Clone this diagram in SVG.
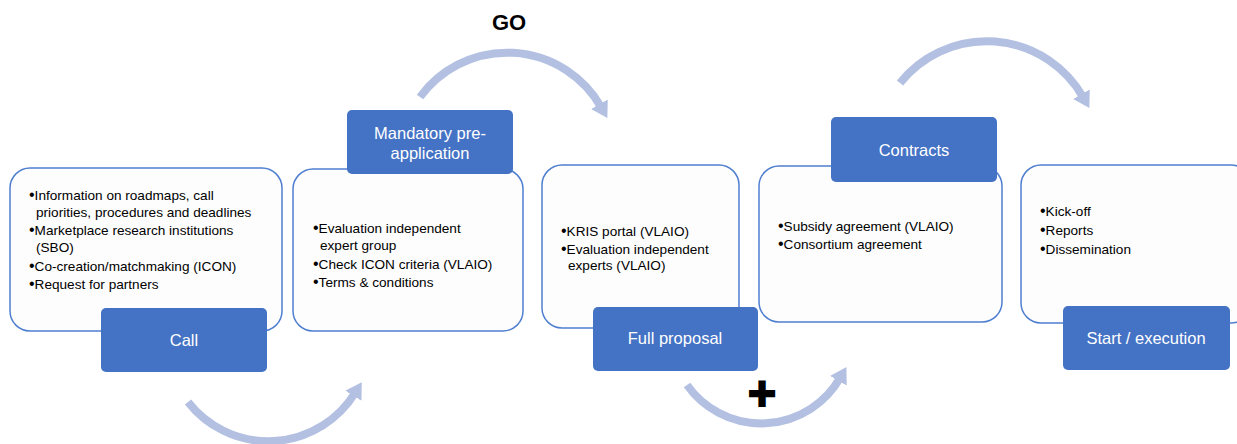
<svg xmlns="http://www.w3.org/2000/svg" width="1237" height="444" viewBox="0 0 1237 444">
<style>
.box{fill:#fdfdfd;stroke:#4f7fd0;stroke-width:1.5}
.tab{fill:#4472c4}
.tt{font-family:"Liberation Sans",Arial,sans-serif;font-size:16.5px;fill:#ffffff;text-anchor:middle}
.bt{font-family:"Liberation Sans",Arial,sans-serif;font-size:13.6px;fill:#000000}
.bu{font-size:16px}
.arc{fill:none;stroke:#b3c0e2;stroke-width:8;marker-end:url(#ah)}
</style>
<defs>
<marker id="ah" viewBox="0 0 10 12" markerWidth="2" markerHeight="2.4" refX="2" refY="6" orient="auto" markerUnits="strokeWidth">
<path d="M0,0 L10,6 L0,12 z" fill="#b3c0e2"/>
</marker>
</defs>
<rect width="1237" height="444" fill="#ffffff"/>

<g id="connectors">
<path class="arc" d="M188,402 A102,102 0 0 0 355,393"/>
<path class="arc" d="M420,97 A108,108 0 0 1 601,107"/>
<path class="arc" d="M687,385 A91,91 0 0 0 840,378"/>
<path class="arc" d="M900,83 A111,111 0 0 1 1083,97"/>
</g>

<g id="label-go"><text x="509" y="30" font-family="Liberation Sans,Arial,sans-serif" font-size="22" font-weight="bold" text-anchor="middle" fill="#000">GO</text></g>
<g id="label-plus"><text x="762" y="410" font-family="Liberation Sans,Arial,sans-serif" font-size="48" font-weight="bold" text-anchor="middle" fill="#000" stroke="#000" stroke-width="2">+</text></g>

<g id="call">
<rect class="box" x="10" y="168" width="272" height="163" rx="20"/>
<text class="bt" x="29" y="200"><tspan class="bu">•</tspan>Information on roadmaps, call</text>
<text class="bt" x="36" y="217">priorities, procedures and deadlines</text>
<text class="bt" x="29" y="235"><tspan class="bu">•</tspan>Marketplace research institutions</text>
<text class="bt" x="36" y="252">(SBO)</text>
<text class="bt" x="29" y="271"><tspan class="bu">•</tspan>Co-creation/matchmaking (ICON)</text>
<text class="bt" x="29" y="289"><tspan class="bu">•</tspan>Request for partners</text>
<rect class="tab" x="101" y="308" width="166" height="64" rx="5"/>
<text class="tt" x="184" y="346">Call</text>
</g>

<g id="pre-application">
<rect class="box" x="293" y="169" width="230" height="162" rx="20"/>
<text class="bt" x="313" y="233"><tspan class="bu">•</tspan>Evaluation independent</text>
<text class="bt" x="320" y="250">expert group</text>
<text class="bt" x="313" y="269"><tspan class="bu">•</tspan>Check ICON criteria (VLAIO)</text>
<text class="bt" x="313" y="287"><tspan class="bu">•</tspan>Terms &amp; conditions</text>
<rect class="tab" x="347" y="110" width="166" height="64" rx="5"/>
<text class="tt" x="430" y="139">Mandatory pre-</text>
<text class="tt" x="430" y="159">application</text>
</g>

<g id="full-proposal">
<rect class="box" x="542" y="165" width="197" height="163" rx="20"/>
<text class="bt" x="561" y="236"><tspan class="bu">•</tspan>KRIS portal  (VLAIO)</text>
<text class="bt" x="561" y="254"><tspan class="bu">•</tspan>Evaluation independent</text>
<text class="bt" x="568" y="270">experts (VLAIO)</text>
<rect class="tab" x="593" y="307" width="165" height="64" rx="5"/>
<text class="tt" x="675" y="344">Full proposal</text>
</g>

<g id="contracts">
<rect class="box" x="759" y="166" width="243" height="156" rx="20"/>
<text class="bt" x="778" y="231"><tspan class="bu">•</tspan>Subsidy agreement  (VLAIO)</text>
<text class="bt" x="778" y="249"><tspan class="bu">•</tspan>Consortium agreement</text>
<rect class="tab" x="831" y="117" width="166" height="65" rx="5"/>
<text class="tt" x="914" y="156">Contracts</text>
</g>

<g id="start-execution">
<rect class="box" x="1021" y="165" width="230" height="158" rx="20"/>
<text class="bt" x="1040" y="216"><tspan class="bu">•</tspan>Kick-off</text>
<text class="bt" x="1040" y="235"><tspan class="bu">•</tspan>Reports</text>
<text class="bt" x="1040" y="254"><tspan class="bu">•</tspan>Dissemination</text>
<rect class="tab" x="1063" y="306" width="167" height="64" rx="5"/>
<text class="tt" x="1146" y="344">Start / execution</text>
</g>
</svg>
